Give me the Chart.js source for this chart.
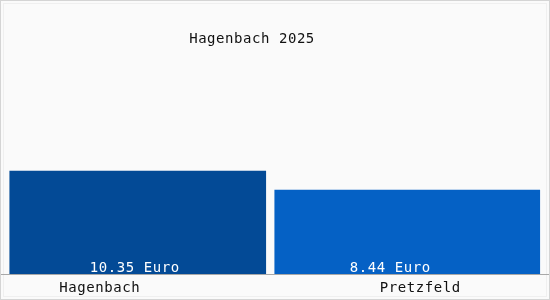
<!DOCTYPE html>
<html>
<head>
<meta charset="utf-8">
<script src="https://cdn.jsdelivr.net/npm/chart.js@4"></script>
<style>
  html, body { margin: 0; padding: 0; background: #ffffff; }
  #wrap { width: 550px; height: 300px; position: relative; }
</style>
</head>
<body>
<div id="wrap"><canvas id="c" width="550" height="300"></canvas></div>
<script>
const title = "Hagenbach 2025";
const categories = ["Hagenbach", "Pretzfeld"];
const values = [10.35, 8.44];
const valueLabels = ["10.35 Euro", "8.44 Euro"];
const barColors = ["#034a96", "#0561c5"];

const FONT = "14px 'DejaVu Sans Mono', monospace";

const decor = {
  id: 'decor',
  beforeDraw(chart) {
    const ctx = chart.ctx;
    ctx.save();
    ctx.fillStyle = '#fafafa';
    ctx.fillRect(0, 0, chart.width, chart.height);
    ctx.strokeStyle = '#d4d4d4';
    ctx.lineWidth = 1;
    ctx.strokeRect(0.5, 0.5, chart.width - 1, chart.height - 1);
    ctx.strokeStyle = '#efefef';
    ctx.strokeRect(3.5, 3.5, chart.width - 7, chart.height - 7);
    ctx.restore();
  },
  afterDatasetsDraw(chart) {
    const ctx = chart.ctx;
    const area = chart.chartArea;
    ctx.save();
    // baseline
    ctx.strokeStyle = '#a8a8a8';
    ctx.lineWidth = 1;
    ctx.beginPath();
    ctx.moveTo(1, Math.round(area.bottom) + 0.5);
    ctx.lineTo(chart.width - 1, Math.round(area.bottom) + 0.5);
    ctx.stroke();

    ctx.font = FONT;
    try { ctx.letterSpacing = '0.55px'; } catch (e) {}
    ctx.textAlign = 'center';
    ctx.textBaseline = 'alphabetic';

    // title
    ctx.fillStyle = '#111111';
    ctx.fillText(title, 252, 43);

    // value labels inside bars, category labels below
    const valOffsets = [-3, -17];
    const catOffsets = [-38, 13];
    chart.data.datasets.forEach((ds, di) => {
      const meta = chart.getDatasetMeta(di);
      meta.data.forEach((bar, i) => {
        if (ds.data[i] == null) return;
        ctx.fillStyle = '#ffffff';
        ctx.fillText(valueLabels[i], bar.x + valOffsets[i], area.bottom - 2);
        ctx.fillStyle = '#111111';
        ctx.fillText(categories[i], bar.x + catOffsets[i], area.bottom + 18);
      });
    });
    ctx.restore();
  }
};

new Chart(document.getElementById('c'), {
  type: 'bar',
  data: {
    labels: categories,
    datasets: [
      { data: [values[0], null], backgroundColor: barColors[0], barThickness: 256, grouped: false },
      { data: [null, values[1]], backgroundColor: barColors[1], barThickness: 265, grouped: false }
    ]
  },
  options: {
    responsive: false,
    animation: false,
    devicePixelRatio: 1,
    layout: { padding: { left: 3, right: 8, top: 75, bottom: 26 } },
    scales: {
      x: { display: false },
      y: { display: false, min: 0, max: 20 }
    },
    plugins: {
      legend: { display: false },
      title: { display: false },
      tooltip: { enabled: false }
    }
  },
  plugins: [decor]
});
</script>
</body>
</html>
